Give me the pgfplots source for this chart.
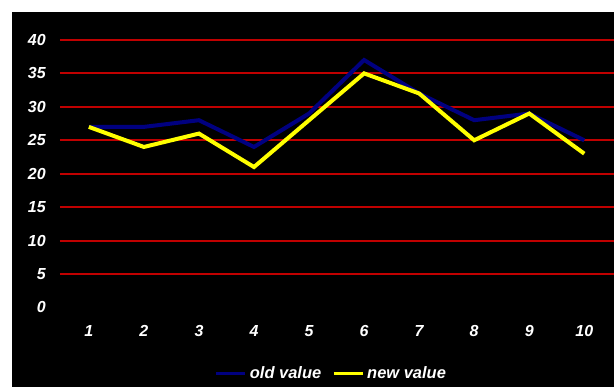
\documentclass[border=0pt]{standalone}
\usepackage{fontspec}
\setmainfont{Liberation Sans}
\usepackage{pgfplots}
\pgfplotsset{compat=1.18}

\definecolor{oldblue}{RGB}{0,0,128}
\definecolor{newyellow}{RGB}{255,255,0}
\definecolor{gridred}{RGB}{192,0,0}

\begin{document}
\begin{tikzpicture}[x=1pt,y=1pt]
  % page and chart background
  \fill[white] (-60,-80) rectangle (555,308);
  \fill[black] (-48,-80) rectangle (555,296);
  \begin{axis}[
    at={(0,0)}, anchor=south west,
    scale only axis,
    width=555pt, height=268pt,
    xmin=0.474, xmax=10.54,
    ymin=0, ymax=40,
    axis line style={draw=none},
    major tick length=0pt,
    xtick={1,...,10},
    ytick={5,10,...,40},
    extra y ticks={0},
    extra y tick style={grid=none},
    ymajorgrids,
    grid style={gridred, line width=2pt},
    tick label style={font=\fontsize{16}{16}\selectfont\bfseries\itshape, text=white, inner sep=0pt},
    /pgf/number format/assume math mode=true,
    yticklabel style={anchor=east, xshift=-14pt},
    xticklabel style={anchor=north, yshift=-18pt},
    legend columns=2,
    legend style={
      at={(0.491,-0.246)}, anchor=center,
      draw=none, fill=none, text=white,
      font=\fontsize{16.5}{16.5}\selectfont\bfseries\itshape,
      /tikz/every even column/.append style={column sep=8pt},
      nodes={inner xsep=3pt, inner ysep=1pt},
    },
    legend image code/.code={\draw[#1, line width=3pt] (0pt,0pt) -- (29pt,0pt);},
  ]
    \addplot[oldblue, line width=4pt, line join=miter] coordinates {
      (1,27) (2,27) (3,28) (4,24) (5,29) (6,37) (7,32) (8,28) (9,29) (10,25)
    };
    \addlegendentry{old value}
    \addplot[newyellow, line width=4pt, line join=miter] coordinates {
      (1,27) (2,24) (3,26) (4,21) (5,28) (6,35) (7,32) (8,25) (9,29) (10,23)
    };
    \addlegendentry{new value}
  \end{axis}
\end{tikzpicture}
\end{document}
